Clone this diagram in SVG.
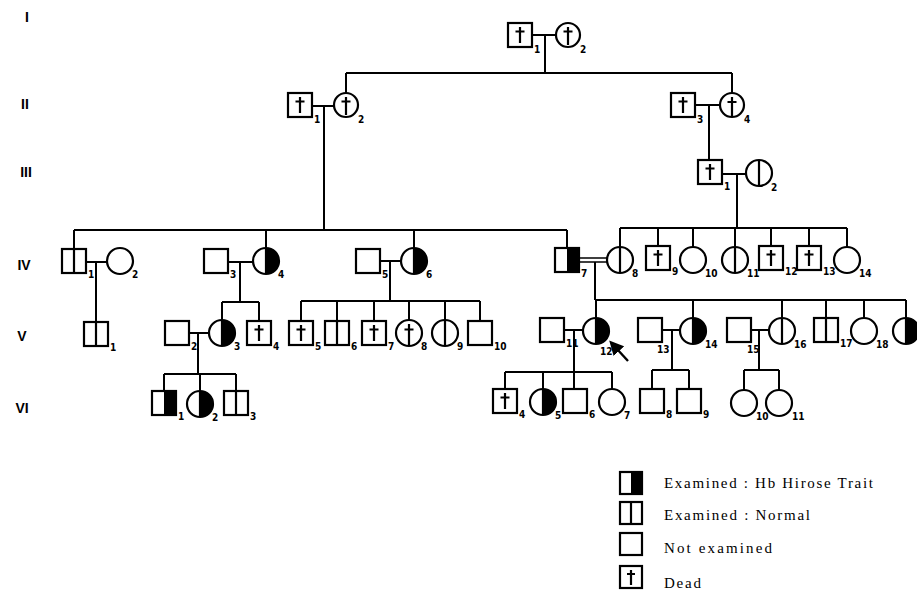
<svg xmlns="http://www.w3.org/2000/svg" xmlns:xlink="http://www.w3.org/1999/xlink" width="917" height="598" viewBox="0 0 917 598">
<style>
.s{fill:#fff;stroke:#000;stroke-width:2.2}
.k{fill:none;stroke:#000;stroke-width:2.2}
.l{fill:none;stroke:#000;stroke-width:2}
.f{fill:#000;stroke:none}
.n{font-family:"DejaVu Sans Condensed","Liberation Sans",sans-serif;font-weight:bold;font-size:10px;fill:#000}
.g{font-family:"Liberation Sans",Arial,sans-serif;font-weight:bold;font-size:14px;fill:#000;text-anchor:middle}
.t{font-family:"Liberation Serif","Times New Roman",serif;font-size:15px;fill:#000}
</style>
<defs>
<rect id="sq" x="-12" y="-12" width="24" height="24" class="s"/>
<circle id="ci" r="13" class="s"/>
<rect id="sqR" x="0" y="-12" width="12" height="24" class="f"/>
<path id="ciR" d="M0,-13 A13,13 0 0 1 0,13 Z" class="f"/>
<path id="sdiv" d="M0,-12 V12" class="k"/>
<path id="cdiv" d="M0,-13 V13" class="k"/>
<path id="dag" d="M0,-8 V8 M-4.5,-3.5 H4.5" class="k"/>
<path id="cdag" d="M0,-9 V13 M-4.5,-3.5 H4.5" class="k"/>
<marker id="ah" viewBox="0 0 10 10" refX="2" refY="5" markerWidth="6" markerHeight="6" orient="auto-start-reverse"><path d="M0,0 L10,5 L0,10 Z" fill="#000"/></marker>
</defs>

<g id="generations">
<text class="g" x="27" y="22">I</text>
<text class="g" x="25" y="109">II</text>
<text class="g" x="26" y="177">III</text>
<text class="g" x="24" y="270">IV</text>
<text class="g" x="22" y="341">V</text>
<text class="g" x="22" y="413">VI</text>
</g>

<g id="connectors" class="l">
<path d="M532,35 H556 M545,35 V73"/>
<path d="M346,73 H732 M346,73 V93 M732,73 V93"/>
<path d="M312,106 H334 M324,106 V230"/>
<path d="M695,105 H719 M709,105 V160"/>
<path d="M722,174 H747 M737,174 V228"/>
<path d="M74,230 H567 M74,230 V249 M266,230 V248 M414,230 V248 M567,230 V248"/>
<path d="M620,228 H847 M620,228 V247 M658,228 V246 M693,228 V247 M735,228 V247 M771,228 V246 M809,228 V246 M847,228 V247"/>
<path d="M86,262 H107 M96,262 V322"/>
<path d="M228,262 H253 M240,262 V302 M222,302 H259 M222,302 V320 M259,302 V321"/>
<path d="M380,261 H401 M390,261 V301 M301,301 H480 M301,301 V321 M337,301 V321 M374,301 V321 M409,301 V320 M445,301 V320 M480,301 V321"/>
<path d="M579,258 H607 M579,262 H607" stroke-width="1.6"/>
<path d="M595,262 V300 M595,300 H906 M596,300 V318 M693,300 V318 M782,300 V318 M826,300 V318 M864,300 V318 M906,300 V318"/>
<path d="M189,333 H209 M198,333 V374 M164,374 H236 M164,374 V391 M200,374 V391 M236,374 V391"/>
<path d="M564,330 H583 M574,330 V389 M505,372 H612 M505,372 V389 M543,372 V389 M612,372 V389"/>
<path d="M662,330 H680 M672,330 V370 M652,370 H689 M652,370 V389 M689,370 V389"/>
<path d="M751,330 H769 M759,330 V370 M744,370 H779 M744,370 V390 M779,370 V390"/>
<path d="M628,361 L617,349" stroke-width="2.4" marker-end="url(#ah)"/>
</g>

<g id="I-1" transform="translate(520,35)"><use xlink:href="#sq"/><use xlink:href="#dag"/><text class="n" x="14" y="18">1</text></g>
<g id="I-2" transform="translate(568,35)"><circle r="12" class="s"/><path d="M0,-8 V10 M-4.5,-3.5 H4.5" class="k"/><text class="n" x="12" y="18">2</text></g>

<g id="II-1" transform="translate(300,105)"><use xlink:href="#sq"/><use xlink:href="#dag"/><text class="n" x="14" y="18">1</text></g>
<g id="II-2" transform="translate(346,105)"><circle r="12" class="s"/><path d="M0,-8 V10 M-4.5,-3.5 H4.5" class="k"/><text class="n" x="12" y="18">2</text></g>
<g id="II-3" transform="translate(683,105)"><use xlink:href="#sq"/><use xlink:href="#dag"/><text class="n" x="14" y="18">3</text></g>
<g id="II-4" transform="translate(732,105)"><circle r="12" class="s"/><path d="M0,-8 V12 M-4.5,-3 H4.5" class="k"/><text class="n" x="12" y="18">4</text></g>

<g id="III-1" transform="translate(710,172)"><use xlink:href="#sq"/><use xlink:href="#dag"/><text class="n" x="14" y="18">1</text></g>
<g id="III-2" transform="translate(759,173)"><use xlink:href="#ci"/><use xlink:href="#cdiv"/><text class="n" x="12" y="18">2</text></g>

<g id="IV-1" transform="translate(74,261)"><use xlink:href="#sq"/><use xlink:href="#sdiv"/><text class="n" x="14" y="17">1</text></g>
<g id="IV-2" transform="translate(120,261)"><use xlink:href="#ci"/><text class="n" x="12" y="17">2</text></g>
<g id="IV-3" transform="translate(216,261)"><use xlink:href="#sq"/><text class="n" x="14" y="17">3</text></g>
<g id="IV-4" transform="translate(266,261)"><use xlink:href="#ci"/><use xlink:href="#ciR"/><use xlink:href="#cdiv"/><text class="n" x="12" y="17">4</text></g>
<g id="IV-5" transform="translate(368,261)"><use xlink:href="#sq"/><text class="n" x="14" y="17">5</text></g>
<g id="IV-6" transform="translate(414,261)"><use xlink:href="#ci"/><use xlink:href="#ciR"/><use xlink:href="#cdiv"/><text class="n" x="12" y="17">6</text></g>
<g id="IV-7" transform="translate(567,260)"><use xlink:href="#sq"/><use xlink:href="#sqR"/><text class="n" x="14" y="17">7</text></g>
<g id="IV-8" transform="translate(620,260)"><use xlink:href="#ci"/><use xlink:href="#cdiv"/><text class="n" x="12" y="17">8</text></g>
<g id="IV-9" transform="translate(658,258)"><use xlink:href="#sq"/><use xlink:href="#dag"/><text class="n" x="14" y="17">9</text></g>
<g id="IV-10" transform="translate(693,260)"><use xlink:href="#ci"/><text class="n" x="12" y="17">10</text></g>
<g id="IV-11" transform="translate(735,260)"><use xlink:href="#ci"/><use xlink:href="#cdiv"/><text class="n" x="12" y="17">11</text></g>
<g id="IV-12" transform="translate(771,258)"><use xlink:href="#sq"/><use xlink:href="#dag"/><text class="n" x="14" y="17">12</text></g>
<g id="IV-13" transform="translate(809,258)"><use xlink:href="#sq"/><use xlink:href="#dag"/><text class="n" x="14" y="17">13</text></g>
<g id="IV-14" transform="translate(847,260)"><use xlink:href="#ci"/><text class="n" x="12" y="17">14</text></g>

<g id="V-1" transform="translate(96,334)"><use xlink:href="#sq"/><use xlink:href="#sdiv"/><text class="n" x="14" y="17">1</text></g>
<g id="V-2" transform="translate(177,333)"><use xlink:href="#sq"/><text class="n" x="14" y="17">2</text></g>
<g id="V-3" transform="translate(222,333)"><use xlink:href="#ci"/><use xlink:href="#ciR"/><use xlink:href="#cdiv"/><text class="n" x="12" y="17">3</text></g>
<g id="V-4" transform="translate(259,333)"><use xlink:href="#sq"/><use xlink:href="#dag"/><text class="n" x="14" y="17">4</text></g>
<g id="V-5" transform="translate(301,333)"><use xlink:href="#sq"/><use xlink:href="#dag"/><text class="n" x="14" y="17">5</text></g>
<g id="V-6" transform="translate(337,333)"><use xlink:href="#sq"/><use xlink:href="#sdiv"/><text class="n" x="14" y="17">6</text></g>
<g id="V-7" transform="translate(374,333)"><use xlink:href="#sq"/><use xlink:href="#dag"/><text class="n" x="14" y="17">7</text></g>
<g id="V-8" transform="translate(409,333)"><use xlink:href="#ci"/><use xlink:href="#cdag"/><text class="n" x="12" y="17">8</text></g>
<g id="V-9" transform="translate(445,333)"><use xlink:href="#ci"/><use xlink:href="#cdiv"/><text class="n" x="12" y="17">9</text></g>
<g id="V-10" transform="translate(480,333)"><use xlink:href="#sq"/><text class="n" x="14" y="17">10</text></g>
<g id="V-11" transform="translate(552,330)"><use xlink:href="#sq"/><text class="n" x="14" y="17">11</text></g>
<g id="V-12" transform="translate(596,331)"><use xlink:href="#ci"/><use xlink:href="#ciR"/><use xlink:href="#cdiv"/><text class="n" x="4" y="24">12</text></g>
<g id="V-13" transform="translate(650,330)"><use xlink:href="#sq"/><text class="n" x="7" y="23">13</text></g>
<g id="V-14" transform="translate(693,331)"><use xlink:href="#ci"/><use xlink:href="#ciR"/><use xlink:href="#cdiv"/><text class="n" x="12" y="17">14</text></g>
<g id="V-15" transform="translate(739,330)"><use xlink:href="#sq"/><text class="n" x="8" y="23">15</text></g>
<g id="V-16" transform="translate(782,331)"><use xlink:href="#ci"/><use xlink:href="#cdiv"/><text class="n" x="12" y="17">16</text></g>
<g id="V-17" transform="translate(826,330)"><use xlink:href="#sq"/><use xlink:href="#sdiv"/><text class="n" x="14" y="17">17</text></g>
<g id="V-18" transform="translate(864,331)"><use xlink:href="#ci"/><text class="n" x="12" y="17">18</text></g>
<g id="V-19" transform="translate(906,331)"><use xlink:href="#ci"/><use xlink:href="#ciR"/><use xlink:href="#cdiv"/></g>

<g id="VI-1" transform="translate(164,403)"><use xlink:href="#sq"/><use xlink:href="#sqR"/><text class="n" x="14" y="17">1</text></g>
<g id="VI-2" transform="translate(200,404)"><use xlink:href="#ci"/><use xlink:href="#ciR"/><use xlink:href="#cdiv"/><text class="n" x="12" y="17">2</text></g>
<g id="VI-3" transform="translate(236,403)"><use xlink:href="#sq"/><use xlink:href="#sdiv"/><text class="n" x="14" y="17">3</text></g>
<g id="VI-4" transform="translate(505,401)"><use xlink:href="#sq"/><use xlink:href="#dag"/><text class="n" x="14" y="17">4</text></g>
<g id="VI-5" transform="translate(543,402)"><use xlink:href="#ci"/><use xlink:href="#ciR"/><use xlink:href="#cdiv"/><text class="n" x="12" y="17">5</text></g>
<g id="VI-6" transform="translate(575,401)"><use xlink:href="#sq"/><text class="n" x="14" y="17">6</text></g>
<g id="VI-7" transform="translate(612,402)"><use xlink:href="#ci"/><text class="n" x="12" y="17">7</text></g>
<g id="VI-8" transform="translate(652,401)"><use xlink:href="#sq"/><text class="n" x="14" y="17">8</text></g>
<g id="VI-9" transform="translate(689,401)"><use xlink:href="#sq"/><text class="n" x="14" y="17">9</text></g>
<g id="VI-10" transform="translate(744,403)"><use xlink:href="#ci"/><text class="n" x="12" y="17">10</text></g>
<g id="VI-11" transform="translate(779,403)"><use xlink:href="#ci"/><text class="n" x="13" y="17">11</text></g>

<g id="legend">
<g transform="translate(631,483)"><rect x="-11" y="-11" width="22" height="22" class="s"/><rect x="0" y="-11" width="11" height="22" class="f"/></g>
<text class="t" x="664" y="488" textLength="209" lengthAdjust="spacing">Examined : Hb Hirose Trait</text>
<g transform="translate(631,513)"><rect x="-11" y="-11" width="22" height="22" class="s"/><path d="M0,-11 V11" class="k"/></g>
<text class="t" x="664" y="520" textLength="146" lengthAdjust="spacing">Examined : Normal</text>
<g transform="translate(631,544)"><rect x="-11" y="-11" width="22" height="22" class="s"/></g>
<text class="t" x="664" y="553" textLength="108" lengthAdjust="spacing">Not  examined</text>
<g transform="translate(631,577)"><rect x="-11" y="-11" width="22" height="22" class="s"/><path d="M0,-7 V8 M-4,-3 H4" class="k"/></g>
<text class="t" x="664" y="588" textLength="37" lengthAdjust="spacing">Dead</text>
</g>
</svg>
